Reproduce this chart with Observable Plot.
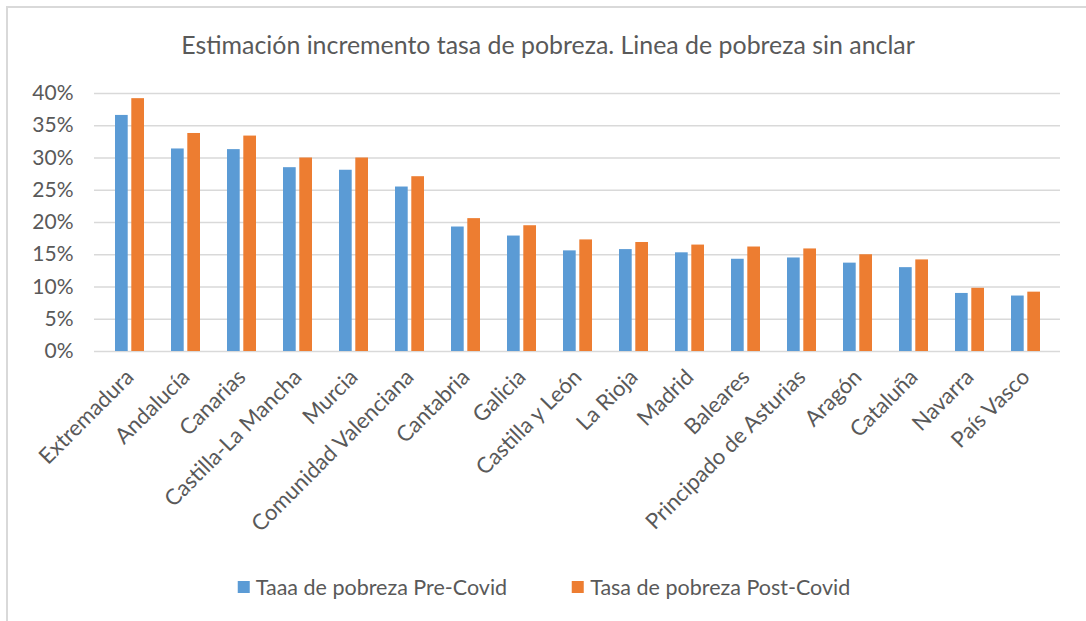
<!DOCTYPE html>
<html>
<head>
<meta charset="utf-8">
<script src="https://cdn.jsdelivr.net/npm/d3@7"></script>
<script src="https://cdn.jsdelivr.net/npm/@observablehq/plot@0.6"></script>
<style>
  html, body { margin: 0; padding: 0; background: #fff; }
  #wrap { position: relative; width: 1086px; height: 621px; overflow: hidden; font-family: Lato, "Open Sans", sans-serif; color: #595959; }
  #frame { position: absolute; left: 6px; top: 6px; width: 1200px; height: 700px; border-left: 2px solid #d9d9d9; border-top: 2px solid #d9d9d9; }
  #title { position: absolute; top: 29px; left: 548px; transform: translateX(-50%); white-space: nowrap; font-size: 24.9px; line-height: 30px; color: #595959; }
  #chart { position: absolute; left: 0; top: 70px; }
  #legend { position: absolute; top: 572px; left: 544px; transform: translateX(-50%); white-space: nowrap; display: flex; gap: 65px; font-size: 21.5px; line-height: 30px; color: #595959; }
  .item { display: flex; align-items: center; gap: 6px; }
  .sw { width: 12px; height: 12px; display: inline-block; }
</style>
</head>
<body>
<div id="wrap">
  <div id="frame"></div>
  <div id="title"></div>
  <div id="chart"></div>
  <div id="legend"></div>
</div>
<script>
const title = "Estimación incremento tasa de pobreza. Linea de pobreza sin anclar";
const regions = ["Extremadura", "Andalucía", "Canarias", "Castilla-La Mancha", "Murcia", "Comunidad Valenciana", "Cantabria", "Galicia", "Castilla y León", "La Rioja", "Madrid", "Baleares", "Principado de Asturias", "Aragón", "Cataluña", "Navarra", "País Vasco"];
const seriesNames = ["Taaa de pobreza Pre-Covid", "Tasa de pobreza Post-Covid"];
const seriesColors = ["#5B9BD5", "#ED7D31"];
const preCovid  = [0.366, 0.314, 0.313, 0.285, 0.281, 0.255, 0.193, 0.179, 0.156, 0.158, 0.153, 0.143, 0.145, 0.137, 0.130, 0.090, 0.086];
const postCovid = [0.392, 0.338, 0.334, 0.300, 0.300, 0.271, 0.206, 0.195, 0.173, 0.169, 0.165, 0.162, 0.159, 0.150, 0.142, 0.098, 0.092];
const yTicks = [0, 0.05, 0.10, 0.15, 0.20, 0.25, 0.30, 0.35, 0.40];

document.getElementById("title").textContent = title;

const pre = regions.map((r, i) => ({region: r, value: preCovid[i]}));
const post = regions.map((r, i) => ({region: r, value: postCovid[i]}));

const halfInset = 16.3;

const chart = Plot.plot({
  width: 1086,
  height: 480,
  marginTop: 23,
  marginBottom: 199,
  marginLeft: 94,
  marginRight: 26,
  style: { fontFamily: "Lato, 'Open Sans', sans-serif", color: "#595959", background: "transparent" },
  x: { domain: regions, paddingInner: 0.49, paddingOuter: 0.245, label: null },
  y: { domain: [0, 0.4], label: null },
  marks: [
    Plot.ruleY(yTicks, { stroke: "#d9d9d9", strokeWidth: 1.5 }),
    Plot.barY(pre, { x: "region", y: "value", fill: seriesColors[0], insetRight: halfInset }),
    Plot.barY(post, { x: "region", y: "value", fill: seriesColors[1], insetLeft: halfInset }),
    Plot.axisY({ ticks: yTicks, tickFormat: d3.format(".0%"), tickSize: 0, tickPadding: 21, fontSize: 21, fill: "#595959", label: null }),
    Plot.axisX({ tickRotate: -45, tickSize: 0, tickPadding: 22, fontSize: 22, fill: "#595959", label: null })
  ]
});
document.getElementById("chart").appendChild(chart);

const legend = document.getElementById("legend");
seriesNames.forEach((name, i) => {
  const item = document.createElement("div");
  item.className = "item";
  const sw = document.createElement("span");
  sw.className = "sw";
  sw.style.background = seriesColors[i];
  const t = document.createElement("span");
  t.textContent = name;
  item.appendChild(sw);
  item.appendChild(t);
  legend.appendChild(item);
});
</script>
</body>
</html>
